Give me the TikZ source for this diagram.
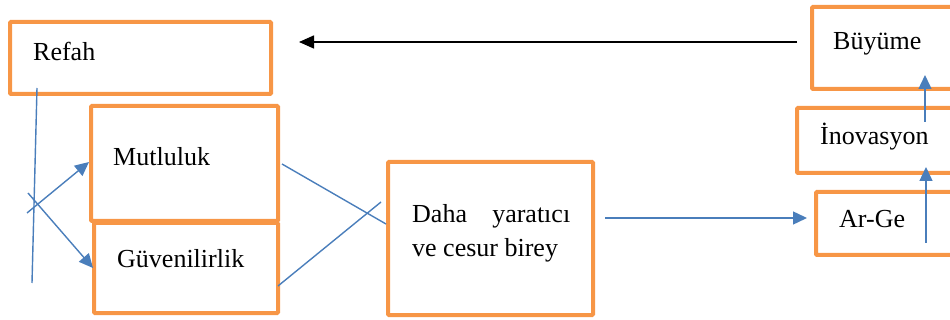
\documentclass[tikz,border=0pt]{standalone}
\usepackage{fontspec}
\setmainfont{Liberation Serif}
\usetikzlibrary{arrows.meta}
\definecolor{boxorange}{HTML}{F79646}
\definecolor{linkblue}{HTML}{4A7EBB}
\begin{document}
\begin{tikzpicture}[x=1pt,y=-1pt,
  box/.style={draw=boxorange, line width=4pt, rounded corners=1pt, inner sep=0pt},
  lbl/.style={inner sep=0pt, anchor=base west, font=\fontsize{26}{31}\selectfont},
  link/.style={draw=linkblue, line width=1.4pt},
  blarrow/.style={link, -{Triangle[length=14pt,width=13pt]}},
  bkarrow/.style={draw=black, line width=1.5pt, -{Triangle[length=15pt,width=13pt]}}]
\useasboundingbox (0,0) rectangle (950,320);
\clip (0,0) rectangle (950,320);
% boxes
\node[box, minimum width=261pt, minimum height=72pt] (refah) at (140.5,58) {};
\node[box, minimum width=187pt, minimum height=115pt] (mutl) at (184.5,163.5) {};
\node[box, minimum width=184pt, minimum height=90pt] (guv) at (186,268) {};
\node[box, minimum width=205pt, minimum height=153pt] (daha) at (490.5,238.5) {};
\node[box, minimum width=158pt, minimum height=82pt] (buy) at (891,48) {};
\node[box, minimum width=173pt, minimum height=65pt] (inov) at (883.5,140.5) {};
\node[box, minimum width=154pt, minimum height=63pt] (arge) at (893,223.5) {};
% labels
\node[lbl] (tRefah) at (33,61) {Refah};
\node[lbl] (tMutl) at (113,166) {Mutluluk};
\node[lbl] (tGuv) at (117,268) {Güvenilirlik};
\node[lbl] (tDaha1) at (412,223) {\makebox[158pt][s]{Daha\hfill yaratıcı}};
\node[lbl] (tDaha2) at (412,257) {ve cesur birey};
\node[lbl] (tBuy) at (833,50) {Büyüme};
\node[lbl] (tInov) at (820,145) {İnovasyon};
\node[lbl] (tArge) at (839,228) {Ar-Ge};
% connector end points
\coordinate (v1) at (37,88);
\coordinate (v2) at (32,283);
\coordinate (a1s) at (27,213);
\coordinate (a1e) at (89,162);
\coordinate (a2s) at (28,193);
\coordinate (a2e) at (93,268);
\coordinate (m1) at (282,164);
\coordinate (m2) at (386,224);
\coordinate (g1) at (278,286);
\coordinate (g2) at (381,202);
\coordinate (d1) at (605,218);
\coordinate (d2) at (807,218);
\coordinate (b1) at (797,42);
\coordinate (b2) at (299,42);
\coordinate (r1) at (926,243);
\coordinate (r2) at (926,167);
\coordinate (i1) at (925,122);
\coordinate (i2) at (925,75);
% connectors
\draw[link] (v1) -- (v2);
\draw[blarrow] (a1s) -- (a1e);
\draw[blarrow] (a2s) -- (a2e);
\draw[link] (m1) -- (m2);
\draw[link] (g1) -- (g2);
\draw[blarrow] (d1) -- (d2);
\draw[bkarrow] (b1) -- (b2);
\draw[blarrow] (r1) -- (r2);
\draw[blarrow] (i1) -- (i2);
\end{tikzpicture}
\end{document}
